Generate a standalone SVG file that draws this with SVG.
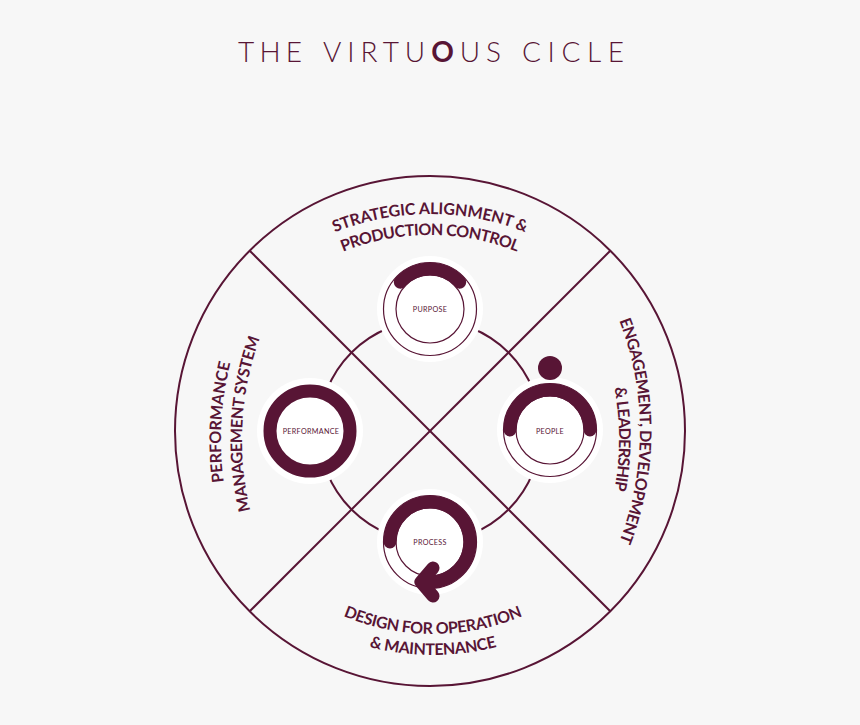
<svg xmlns="http://www.w3.org/2000/svg" width="860" height="725" viewBox="0 0 860 725">
<defs>
<style>
.ln{fill:none;stroke:#581535;stroke-width:2}
.thin{fill:none;stroke:#581535;stroke-width:1.2}
.bg{fill:#ffffff}
.thick{fill:none;stroke:#581535;stroke-width:13;stroke-linecap:round;stroke-linejoin:round}
.lbl{font-family:Lato,"Liberation Sans",sans-serif;font-weight:700;font-size:16px;fill:#581535}
.nl{font-family:Lato,"Liberation Sans",sans-serif;font-size:7.2px;fill:#581535;letter-spacing:0.3px}
.title{font-family:Lato,"Liberation Sans",sans-serif;font-weight:300;font-size:28px;fill:#581535}
</style>
<path id="pTop1" d="M302,248.3 A256,256 0 0 1 558,248.3"/>
<path id="pTop2" d="M312.5,266.5 A235,235 0 0 1 547.5,266.5"/>
<path id="pBot1" d="M316,602.6 A234,234 0 0 0 550,602.6"/>
<path id="pBot2" d="M305.5,620.8 A255,255 0 0 0 560.5,620.8"/>
<path id="pR1" d="M599.1,278.5 A305,305 0 0 1 599.1,583.5"/>
<path id="pR2" d="M581,297 A284,284 0 0 1 581,581"/>
<path id="pL1" d="M255.4,584.3 A320,320 0 0 1 273.2,264.8"/>
<path id="pL2" d="M274.2,575.1 A299,299 0 0 1 290.7,276.5"/>
</defs>
<rect width="860" height="725" fill="#f7f7f7"/>
<g id="title">
<text class="title" x="238" y="61.5" textLength="64" lengthAdjust="spacing">THE</text>
<text class="title" x="323" y="61.5" textLength="178" lengthAdjust="spacing">VIRTU<tspan font-weight="700">O</tspan>US</text>
<text class="title" x="522" y="61.5" textLength="102" lengthAdjust="spacing">CICLE</text>
</g>
<g id="connectors">
<circle class="ln" cx="430" cy="431" r="255"/>
<line class="ln" x1="249.7" y1="250.7" x2="610.3" y2="611.3"/>
<line class="ln" x1="610.3" y1="250.7" x2="249.7" y2="611.3"/>
<circle class="ln" cx="430" cy="431" r="111"/>
</g>
<g id="labels">
<text class="lbl"><textPath href="#pTop1" startOffset="50%" text-anchor="middle" textLength="195" lengthAdjust="spacing">STRATEGIC ALIGNMENT &amp;</textPath></text>
<text class="lbl"><textPath href="#pTop2" startOffset="50%" text-anchor="middle" textLength="178" lengthAdjust="spacing">PRODUCTION CONTROL</textPath></text>
<text class="lbl"><textPath href="#pBot1" startOffset="50%" text-anchor="middle" textLength="184" lengthAdjust="spacing">DESIGN FOR OPERATION</textPath></text>
<text class="lbl"><textPath href="#pBot2" startOffset="50%" text-anchor="middle" textLength="129" lengthAdjust="spacing">&amp; MAINTENANCE</textPath></text>
<text class="lbl"><textPath href="#pR1" startOffset="50%" text-anchor="middle" textLength="226" lengthAdjust="spacing">ENGAGEMENT, DEVELOPMENT</textPath></text>
<text class="lbl"><textPath href="#pR2" startOffset="50%" text-anchor="middle" textLength="103" lengthAdjust="spacing">&amp; LEADERSHIP</textPath></text>
<text class="lbl"><textPath href="#pL1" startOffset="50%" text-anchor="middle" textLength="120" lengthAdjust="spacing">PERFORMANCE</textPath></text>
<text class="lbl"><textPath href="#pL2" startOffset="50%" text-anchor="middle" textLength="175" lengthAdjust="spacing">MANAGEMENT SYSTEM</textPath></text>
</g>
<g id="purpose">
<circle class="bg" cx="430" cy="309" r="53"/>
<circle class="thin" cx="430" cy="309" r="46.5"/>
<circle class="thin" cx="430" cy="309" r="34"/>
<path class="thick" d="M400.3,282.2 A40,40 0 0 1 459.7,282.2"/>
<text class="nl" x="430" y="311.5" text-anchor="middle">PURPOSE</text>
</g>
<g id="people">
<circle class="bg" cx="550" cy="430" r="53"/>
<circle class="thin" cx="550" cy="430" r="46.5"/>
<circle class="thin" cx="550" cy="430" r="34"/>
<path class="thick" d="M510,430 A40,40 0 0 1 590,430"/>
<circle cx="550" cy="368" r="12" fill="#581535"/>
<text class="nl" x="550" y="433.5" text-anchor="middle">PEOPLE</text>
</g>
<g id="performance">
<circle class="bg" cx="310" cy="431" r="53"/>
<circle class="thick" cx="310" cy="431" r="40"/>
<text class="nl" x="311" y="434" text-anchor="middle">PERFORMANCE</text>
</g>
<g id="process">
<circle class="bg" cx="430" cy="542" r="53"/>
<circle class="thin" cx="430" cy="542" r="46.5"/>
<circle class="thin" cx="430" cy="542" r="34"/>
<path class="thick" d="M390,542 A40,40 0 1 1 423.1,581.4 L421,582 M433,568 L421,582 L433,596"/>
<text class="nl" x="430" y="545" text-anchor="middle">PROCESS</text>
</g>
</svg>
